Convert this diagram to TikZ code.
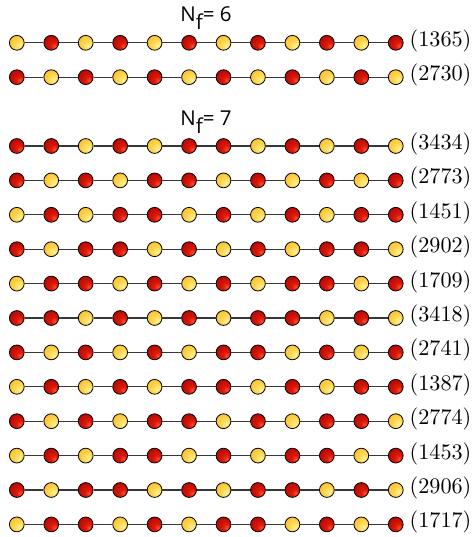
\documentclass[tikz,border=0pt]{standalone}
\usepackage{fontspec}
\newfontfamily\titlefont{Open Sans}
\newfontfamily\lmten{lmroman10-regular.otf}
\definecolor{rdA}{RGB}{255,80,45}
\definecolor{rdB}{RGB}{220,25,10}
\definecolor{rdC}{RGB}{150,0,0}
\definecolor{ylA}{RGB}{255,240,150}
\definecolor{ylB}{RGB}{255,210,70}
\definecolor{ylC}{RGB}{240,168,25}
\definecolor{linkgray}{RGB}{55,55,55}
\pgfdeclareradialshading{redball}{\pgfpoint{12bp}{-12bp}}{color(0bp)=(rdA); color(12bp)=(rdB); color(50bp)=(rdC); color(75bp)=(rdC)}
\pgfdeclareradialshading{yelball}{\pgfpoint{10bp}{-10bp}}{color(0bp)=(ylA); color(20bp)=(ylB); color(55bp)=(ylC); color(75bp)=(ylC)}
\tikzset{
  bead/.style={circle, minimum size=14.8pt, inner sep=0pt, draw=black, line width=0.8pt, shade},
  b0/.style={bead, shading=yelball},
  b1/.style={bead, shading=redball},
  link/.style={draw=linkgray, line width=1.2pt},
  lbl/.style={anchor=base west, inner sep=0pt, font=\lmten\fontsize{22.2}{26}\selectfont},
  ttl/.style={anchor=base, inner sep=0pt, font=\titlefont\fontsize{20.5}{24}\selectfont}
}
\newcommand\beadrow[3]{%
  \pgfmathsetmacro\yy{42.8+34.4*#1}
  \foreach \b [count=\c] in {#3} {
    \node[b\b] (n#1-\c) at ({16.8+34.45*(\c-1)},\yy) {};
  }
  \foreach \c [evaluate=\c as \cn using int(\c+1)] in {1,...,11} {
    \draw[link] (n#1-\c) -- (n#1-\cn);
  }
  \node[lbl] (t#1) at (409.5,\yy+3.5) {(#2)};
}
\begin{document}
\begin{tikzpicture}[x=1pt,y=-1pt]
\useasboundingbox (0,0) rectangle (475,537);
\node[ttl] (h6) at (206,21.5) {N\raisebox{-8.5pt}{f}= 6};
\node[ttl] (h7) at (206,125.5) {N\raisebox{-8.5pt}{f}= 7};
\beadrow{0}{1365}{0,1,0,1,0,1,0,1,0,1,0,1}
\beadrow{1}{2730}{1,0,1,0,1,0,1,0,1,0,1,0}
\beadrow{3}{3434}{1,1,0,1,0,1,1,0,1,0,1,0}
\beadrow{4}{2773}{1,0,1,0,1,1,0,1,0,1,0,1}
\beadrow{5}{1451}{0,1,0,1,1,0,1,0,1,0,1,1}
\beadrow{6}{2902}{1,0,1,1,0,1,0,1,0,1,1,0}
\beadrow{7}{1709}{0,1,1,0,1,0,1,0,1,1,0,1}
\beadrow{8}{3418}{1,1,0,1,0,1,0,1,1,0,1,0}
\beadrow{9}{2741}{1,0,1,0,1,0,1,1,0,1,0,1}
\beadrow{10}{1387}{0,1,0,1,0,1,1,0,1,0,1,1}
\beadrow{11}{2774}{1,0,1,0,1,1,0,1,0,1,1,0}
\beadrow{12}{1453}{0,1,0,1,1,0,1,0,1,1,0,1}
\beadrow{13}{2906}{1,0,1,1,0,1,0,1,1,0,1,0}
\beadrow{14}{1717}{0,1,1,0,1,0,1,1,0,1,0,1}
\end{tikzpicture}
\end{document}
